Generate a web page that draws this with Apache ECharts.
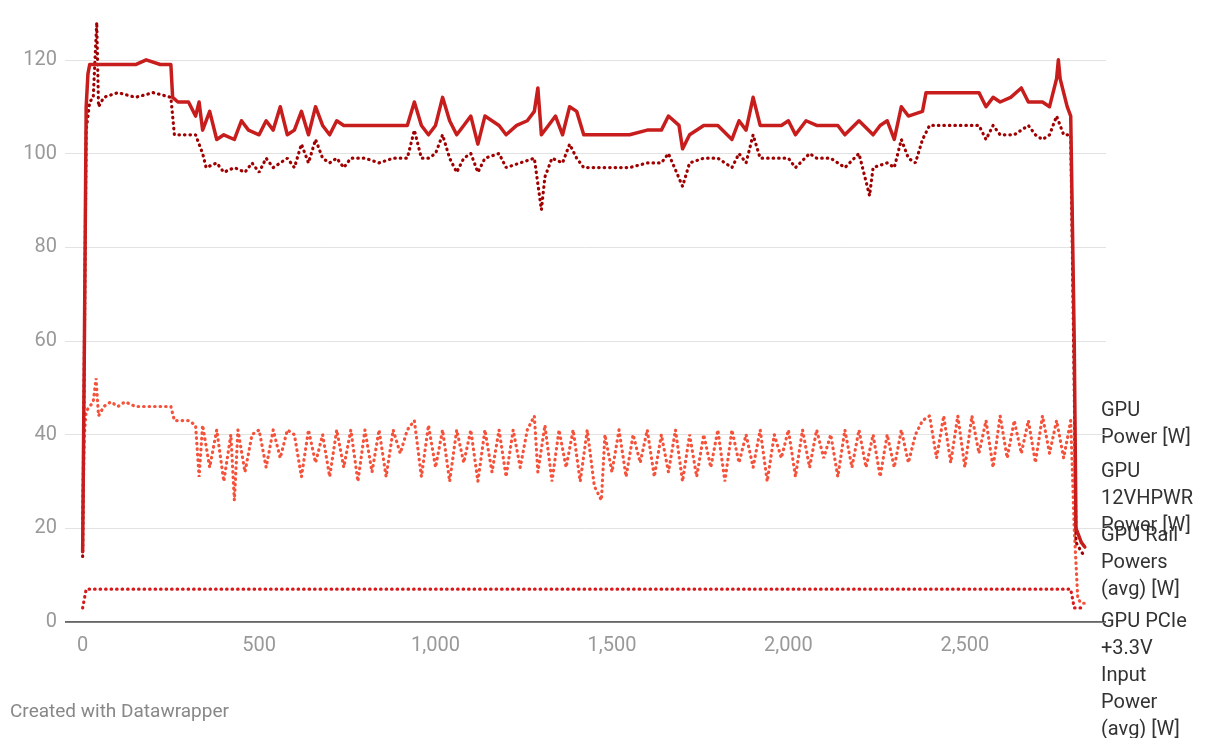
<!DOCTYPE html>
<html><head><meta charset="utf-8">
<script src="https://cdn.jsdelivr.net/npm/echarts@6/dist/echarts.min.js"></script>
<style>html,body{margin:0;padding:0;background:#fff}#c{width:1220px;height:738px}</style>
</head><body><div id="c"></div>
<script>
const gpuPower = [[0,15],[5,60],[10,110],[15,117],[20,119],[60,119],[100,119],[150,119],[180,120],[220,119],[250,119],[255,112],[270,111],[300,111],[320,108],[330,111],[340,105],[360,109],[380,103],[400,104],[430,103],[450,107],[470,105],[500,104],[520,107],[540,105],[560,110],[580,104],[600,105],[620,109],[640,104],[660,110],[680,106],[700,104],[720,107],[740,106],[760,106],[800,106],[850,106],[900,106],[920,106],[940,111],[960,106],[980,104],[1000,106],[1020,112],[1040,107],[1060,104],[1080,106],[1100,108],[1120,102],[1140,108],[1160,107],[1180,106],[1200,104],[1230,106],[1260,107],[1280,109],[1290,114],[1300,104],[1320,106],[1340,108],[1360,104],[1380,110],[1400,109],[1420,104],[1450,104],[1500,104],[1550,104],[1600,105],[1640,105],[1660,108],[1690,106],[1700,101],[1720,104],[1760,106],[1800,106],[1840,103],[1860,107],[1880,105],[1900,112],[1920,106],[1940,106],[1980,106],[2000,107],[2020,104],[2050,107],[2080,106],[2100,106],[2140,106],[2160,104],[2200,107],[2240,104],[2260,106],[2280,107],[2300,103],[2320,110],[2340,108],[2380,109],[2390,113],[2420,113],[2480,113],[2540,113],[2560,110],[2580,112],[2600,111],[2630,112],[2660,114],[2680,111],[2720,111],[2740,110],[2760,116],[2765,120],[2770,116],[2790,110],[2800,108],[2810,60],[2815,20],[2830,17],[2840,16]];
const gpu12v = [[0,14],[10,105],[20,111],[30,112],[40,128],[45,110],[60,112],[100,113],[150,112],[200,113],[250,112],[260,104],[300,104],[320,104],[340,100],[350,97],[380,98],[400,96],[430,97],[460,96],[480,98],[500,96],[520,99],[540,97],[560,98],[580,99],[600,97],[620,102],[640,98],[660,103],[680,99],[700,98],[720,99],[740,97],[760,99],[800,99],[840,98],[880,99],[920,99],[940,105],[960,99],[980,99],[1000,100],[1020,104],[1040,99],[1060,96],[1080,99],[1100,100],[1120,96],[1140,99],[1180,100],[1200,97],[1240,98],[1280,99],[1300,88],[1310,95],[1330,99],[1360,98],[1380,102],[1400,99],[1420,97],[1460,97],[1500,97],[1550,97],[1600,98],[1640,98],[1660,100],[1700,93],[1720,98],[1760,99],[1800,99],[1840,97],[1860,100],[1880,98],[1900,104],[1920,99],[1960,99],[2000,99],[2020,97],[2060,100],[2080,99],[2120,99],[2160,97],[2200,100],[2230,91],[2240,97],[2280,98],[2300,97],[2320,103],[2340,99],[2360,98],[2380,103],[2400,106],[2440,106],[2500,106],[2540,106],[2560,103],[2580,106],[2600,104],[2640,104],[2680,106],[2700,104],[2720,103],[2740,104],[2760,108],[2780,104],[2800,104],[2810,50],[2815,17],[2830,15],[2840,14]];
const gpuRail = [[0,22],[5,40],[10,45],[20,46],[30,47],[38,52],[45,44],[60,46],[80,47],[100,46],[120,47],[150,46],[200,46],[250,46],[260,43],[300,43],[320,42],[330,31],[340,42],[360,33],[380,41],[400,30],[420,40],[430,26],[440,41],[460,32],[480,40],[500,41],[520,33],[540,41],[560,35],[580,41],[600,40],[620,31],[640,41],[660,34],[680,40],[700,31],[720,41],[740,33],[760,41],[780,30],[800,41],[820,32],[840,41],[860,31],[880,41],[900,36],[920,41],[940,43],[960,31],[980,42],[1000,33],[1020,41],[1040,30],[1060,41],[1080,34],[1100,41],[1120,30],[1140,41],[1160,32],[1180,41],[1200,31],[1220,41],[1240,33],[1260,41],[1280,44],[1290,32],[1310,42],[1330,30],[1350,41],[1370,33],[1390,41],[1410,30],[1430,41],[1450,29],[1470,26],[1480,40],[1500,32],[1520,41],[1540,31],[1560,40],[1580,34],[1600,41],[1620,31],[1640,40],[1660,32],[1680,41],[1700,30],[1720,40],[1740,31],[1760,40],[1780,33],[1800,41],[1820,30],[1840,41],[1860,34],[1880,40],[1900,33],[1920,41],[1940,30],[1960,40],[1980,35],[2000,41],[2020,31],[2040,41],[2060,33],[2080,41],[2100,35],[2120,40],[2140,31],[2160,41],[2180,33],[2200,41],[2220,33],[2240,40],[2260,31],[2280,40],[2300,33],[2320,41],[2340,34],[2360,40],[2380,43],[2400,44],[2420,35],[2440,44],[2460,34],[2480,44],[2500,33],[2520,44],[2540,36],[2560,43],[2580,33],[2600,44],[2620,35],[2640,43],[2660,36],[2680,43],[2700,34],[2720,44],[2740,36],[2760,43],[2780,35],[2800,43],[2810,20],[2820,5],[2830,4],[2840,4]];
const gpuPcie = [[0,3],[5,5],[10,7],[500,7],[1000,7],[1500,7],[2000,7],[2500,7],[2800,7],[2810,3],[2830,3],[2840,2.5]];
const labels = ["GPU\nPower [W]","GPU\n12VHPWR\nPower [W]","GPU Rail\nPowers\n(avg) [W]","GPU PCIe\n+3.3V\nInput\nPower\n(avg) [W]"];

const chart = echarts.init(document.getElementById('c'));
const mk = (name,data,color,type,w,z)=>({name,type:'line',data,symbol:'none',animation:false,z,
  lineStyle:type==='solid'?{color,width:w,cap:'round',join:'round'}:{color,width:w,type:[0.5,5],cap:'round'}});
chart.setOption({
  grid:{left:65,right:114,top:13,bottom:116},
  xAxis:{type:'value',min:-50,max:2900,interval:50,
    axisLine:{show:false},axisTick:{show:false},splitLine:{show:false},
    axisLabel:{color:'#999',fontSize:20,fontFamily:'Roboto',margin:14,showMaxLabel:false,
      formatter:v=>(v>=0&&v%500===0)?v.toLocaleString('en-US'):''}},
  yAxis:{type:'value',min:0,max:130,interval:20,
    axisLine:{show:false},axisTick:{show:false},
    splitLine:{showMaxLine:false,lineStyle:{color:'#e2e2e2',width:1}},
    axisLabel:{color:'#999',fontSize:20,fontFamily:'Roboto',margin:8,showMaxLabel:false}},
  series:[
    mk('GPU Rail Powers (avg) [W]',gpuRail,'#f4523a','dot',3.2,2),
    mk('GPU PCIe +3.3V Input Power (avg) [W]',gpuPcie,'#d7191c','dot',3.2,2),
    mk('GPU 12VHPWR Power [W]',gpu12v,'#a00000','dot',3.2,3),
    mk('GPU Power [W]',gpuPower,'#c71e1d','solid',3.5,4),
    {type:'line',data:[[-50,0],[2900,0]],symbol:'none',silent:true,animation:false,lineStyle:{color:'#333',width:1.5},z:1}
  ],
  graphic:[
    {type:'text',left:1101,top:397,style:{text:labels[0],fontSize:20,lineHeight:27,fill:'#333',fontFamily:'Roboto'}},
    {type:'text',left:1101,top:458,style:{text:labels[1],fontSize:20,lineHeight:27,fill:'#333',fontFamily:'Roboto'}},
    {type:'text',left:1101,top:522,style:{text:labels[2],fontSize:20,lineHeight:27,fill:'#333',fontFamily:'Roboto'}},
    {type:'text',left:1101,top:608,style:{text:labels[3],fontSize:20,lineHeight:27,fill:'#333',fontFamily:'Roboto'}},
    {type:'text',left:10,top:703,style:{text:'Created with Datawrapper',fontSize:19,fill:'#888',fontFamily:'Roboto'}}
  ]
});
</script></body></html>
